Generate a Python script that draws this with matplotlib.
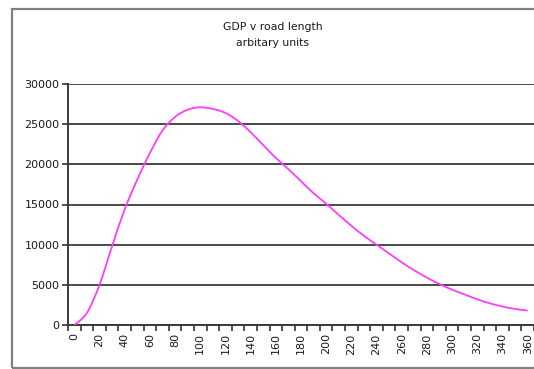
import matplotlib
matplotlib.use('Agg')
import matplotlib.pyplot as plt
from matplotlib.patches import Rectangle, PathPatch
from matplotlib.path import Path
from matplotlib.ticker import MultipleLocator, FixedLocator
import numpy as np

road_length = list(range(0, 370, 10))
gdp = [0, 1500, 5000, 9800, 14400, 18100, 21400, 24200, 25900, 26800,
       27100, 26900, 26400, 25400, 24000, 22400, 20800, 19400, 17900, 16400,
       15100, 13700, 12350, 11100, 10000, 8900, 7800, 6800, 5900, 5100,
       4400, 3800, 3200, 2700, 2300, 2000, 1800]
title_lines = ['GDP v road length', 'arbitary units']


def smooth_path(xs, ys):
    # Catmull-Rom style bezier through the points, like a "smoothed line" series
    pts = np.column_stack([xs, ys]).astype(float)
    verts = [pts[0]]
    codes = [Path.MOVETO]
    n = len(pts)
    for i in range(n - 1):
        p0 = pts[max(i - 1, 0)]
        p1 = pts[i]
        p2 = pts[i + 1]
        p3 = pts[min(i + 2, n - 1)]
        verts += [p1 + (p2 - p0) / 6, p2 - (p3 - p1) / 6, p2]
        codes += [Path.CURVE4] * 3
    return Path(verts, codes)


W, H = 534, 369
fig = plt.figure(figsize=(W / 100, H / 100), dpi=100)
plt.rcParams['font.family'] = 'DejaVu Sans'

# plot area in pixel terms
left, right, top, bottom = 68, 534, 84, 325
ax = fig.add_axes([left / W, 1 - bottom / H, (right - left) / W, (bottom - top) / H])

idx = np.arange(len(road_length))
ax.add_patch(PathPatch(smooth_path(idx, gdp), fill=False, edgecolor='#FF3CFF',
                       lw=1.3, joinstyle='round', zorder=3))

ax.set_xlim(-0.5, len(road_length) - 0.5)
ax.set_ylim(0, 30000)

# category axis: labels on every other category, tick marks between categories
ax.xaxis.set_major_locator(FixedLocator(idx[::2]))
ax.set_xticklabels([str(v) for v in road_length[::2]], rotation=90, fontsize=8)
ax.xaxis.set_minor_locator(FixedLocator(np.arange(-0.5, len(road_length), 1.0)))
ax.tick_params(axis='x', which='major', length=0, pad=6, colors='#1a1a1a')
ax.tick_params(axis='x', which='minor', length=4, width=1.2, color='#333333', direction='out')

ax.yaxis.set_major_locator(MultipleLocator(5000))
ax.tick_params(axis='y', which='major', length=4, width=1.2, color='#333333',
               labelsize=8, pad=2, labelcolor='#1a1a1a')

ax.grid(axis='y', color='#4a4a4a', lw=1.4)
ax.set_axisbelow(True)
for side in ('top', 'right'):
    ax.spines[side].set_visible(False)
for side in ('left', 'bottom'):
    ax.spines[side].set_color('#3a3a3a')
    ax.spines[side].set_linewidth(1.4)

# chart border
fig.patches.append(Rectangle((12 / W, 1 - 368 / H), (W + 10 - 12) / W, (368 - 9) / H,
                             transform=fig.transFigure, fill=False,
                             edgecolor='#808080', lw=1.6, clip_on=False))

fig.text(273 / W, 1 - 27 / H, title_lines[0], ha='center', va='center', fontsize=7.8, color='#1a1a1a')
fig.text(273 / W, 1 - 43 / H, title_lines[1], ha='center', va='center', fontsize=7.8, color='#1a1a1a')

fig.savefig('out.png', dpi=100)
